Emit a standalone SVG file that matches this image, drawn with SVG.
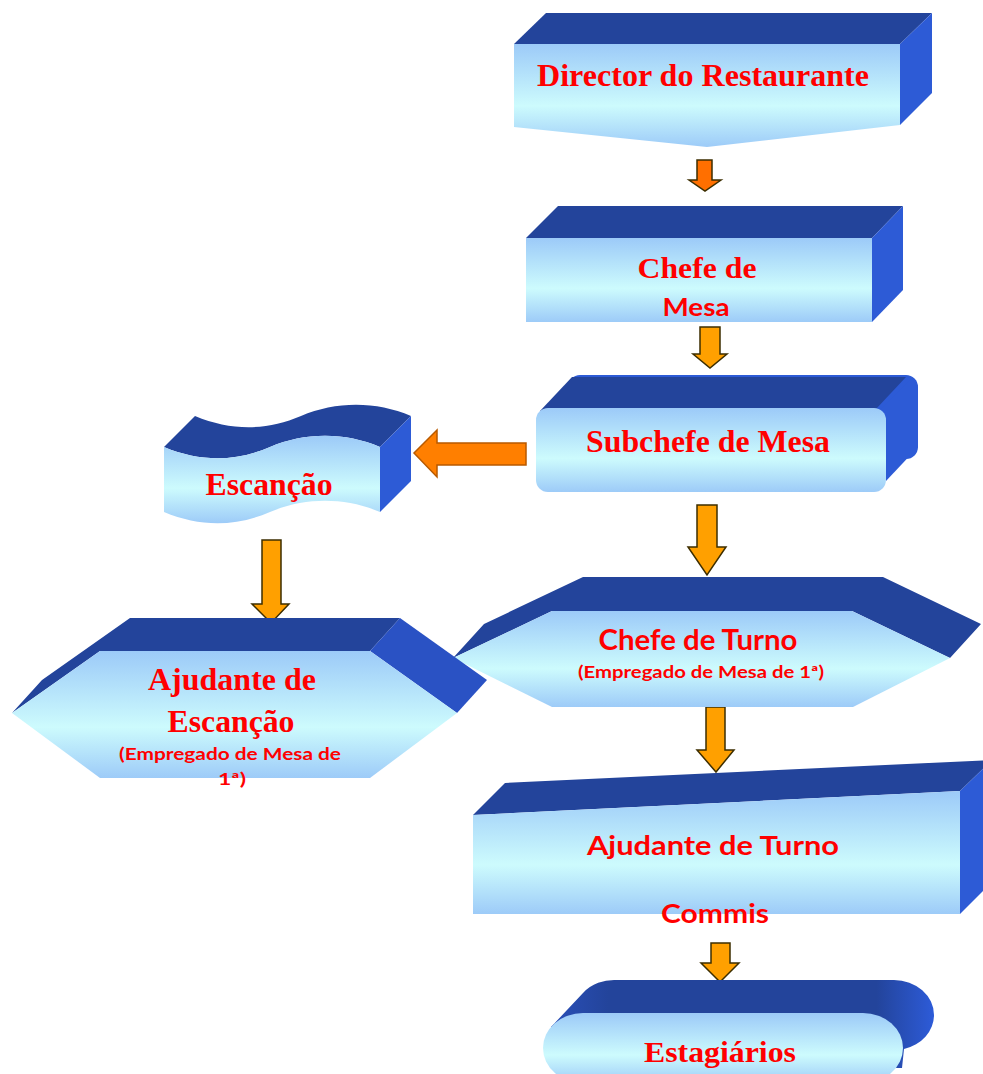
<svg xmlns="http://www.w3.org/2000/svg" width="983" height="1074" viewBox="0 0 983 1074">
<defs>
<linearGradient id="front" x1="0" y1="0" x2="0" y2="1">
<stop offset="0" stop-color="#9ccaf8"/>
<stop offset="0.6" stop-color="#cdfbfd"/>
<stop offset="1" stop-color="#9dcbf8"/>
</linearGradient>
<linearGradient id="pill" x1="0" y1="0" x2="1" y2="0">
<stop offset="0" stop-color="#2a4fb8"/>
<stop offset="0.15" stop-color="#23449b"/>
<stop offset="0.85" stop-color="#23449b"/>
<stop offset="1" stop-color="#2d5bd8"/>
</linearGradient>
<style>
.top{fill:#23449b}
.side{fill:#2d5bd6}
.face{fill:url(#front)}
.serif{font-family:"Liberation Serif","DejaVu Serif",serif;font-weight:bold;fill:#ff0000;text-anchor:middle}
.sans{font-family:Lato,"Liberation Sans",sans-serif;font-weight:bold;fill:#ff0000;text-anchor:middle}
.arr{fill:#ffa000;stroke:#3d2e00;stroke-width:1.5;stroke-linejoin:miter}
</style>
</defs>
<rect width="983" height="1074" fill="#ffffff"/>

<g id="connectors">
<polygon class="arr" style="fill:#ff6f00" points="697,160 712,160 712,180 721,180 705,191 689,180 697,180"/>
<polygon class="arr" points="700,327 720,327 720,354 727,354 710,368 693,354 700,354"/>
<polygon class="arr" style="fill:#ff7f00;stroke:#b85a00" points="526,443 526,465 437,465 437,477 414,453 437,430 437,443"/>
<polygon class="arr" points="697,505 717,505 717,547 726,547 707,575 688,547 697,547"/>
<polygon class="arr" points="262,540 281,540 281,604 289,604 271,623 252,604 262,604"/>
<polygon class="arr" points="706,707 725,707 725,750 734,750 716,772 697,750 706,750"/>
<polygon class="arr" points="711,943 730,943 730,963 739,963 720,982 701,963 711,963"/>
</g>

<g id="director">
<polygon class="top" points="514,44 546,13 932,13 900,44"/>
<polygon class="side" points="900,44 932,13 932,93 900,125"/>
<polygon class="face" points="514,44 900,44 900,125 707,147 514,127"/>
<text class="serif" x="703" y="86" font-size="31" textLength="332" lengthAdjust="spacingAndGlyphs">Director do Restaurante</text>
</g>

<g id="chefe-mesa">
<polygon class="top" points="526,238 558,206 903,206 872,238"/>
<polygon class="side" points="872,238 903,206 903,290 872,322"/>
<rect class="face" x="526" y="238" width="346" height="84"/>
<text class="serif" x="697" y="278" font-size="30" textLength="119" lengthAdjust="spacingAndGlyphs">Chefe de</text>
<text class="sans" x="696" y="316" font-size="24" textLength="67" lengthAdjust="spacingAndGlyphs">Mesa</text>
</g>

<g id="subchefe">
<rect class="side" x="568" y="375" width="350" height="84" rx="12"/>
<polygon class="top" points="540,411 572,377 906,377 876,409"/>
<polygon class="side" points="880,410 912,378 918,390 918,447 886,481"/>
<rect class="face" x="536" y="408" width="350" height="84" rx="12"/>
<text class="serif" x="708" y="452" font-size="31" textLength="244" lengthAdjust="spacingAndGlyphs">Subchefe de Mesa</text>
</g>

<g id="escancao">
<path class="top" d="M164,447 C200,462 235,462 270,447 C305,432 345,432 380,447 L411,416 C376,401 336,401 301,416 C266,431 231,431 195,416 Z"/>
<polygon class="side" points="380,447 411,416 411,481 380,512"/>
<path class="face" d="M164,447 C200,462 235,462 270,447 C305,432 345,432 380,447 L380,512 C345,497 305,497 270,512 C235,527 200,527 164,512 Z"/>
<text class="serif" x="269" y="495" font-size="31" textLength="127" lengthAdjust="spacingAndGlyphs">Escanção</text>
</g>

<g id="chefe-turno">
<polygon class="top" points="453,658 484,624 583,577 883,577 981,624 950,658 852,611 552,611"/>
<polygon class="face" points="453,658 552,611 852,611 950,658 853,707 552,707"/>
<text class="sans" x="698" y="650" font-size="28" textLength="199" lengthAdjust="spacingAndGlyphs">Chefe de Turno</text>
<text class="sans" x="701" y="678" font-size="17" textLength="246" lengthAdjust="spacingAndGlyphs">(Empregado de Mesa de 1ª)</text>
</g>

<g id="ajudante-escancao">
<polygon class="top" points="12,713 42,680 130,618 400,618 370,651 100,651"/>
<polygon class="side" style="fill:#2a52c4" points="370,651 400,618 487,680 457,713"/>
<polygon class="face" points="12,713 100,651 370,651 457,713 370,778 100,778"/>
<text class="serif" x="232" y="690" font-size="31" textLength="168" lengthAdjust="spacingAndGlyphs">Ajudante de</text>
<text class="serif" x="231" y="732" font-size="31" textLength="127" lengthAdjust="spacingAndGlyphs">Escanção</text>
<text class="sans" x="230" y="760" font-size="17" textLength="222" lengthAdjust="spacingAndGlyphs">(Empregado de Mesa de</text>
<text class="sans" x="232" y="785" font-size="17" textLength="28" lengthAdjust="spacingAndGlyphs">1ª)</text>
</g>

<g id="ajudante-turno">
<polygon class="top" points="473,815 505,783 992,760 960,791"/>
<polygon class="side" points="960,791 992,760 992,882 960,914"/>
<polygon class="face" points="473,815 960,791 960,914 473,914"/>
<text class="sans" x="713" y="855" font-size="26" textLength="252" lengthAdjust="spacingAndGlyphs">Ajudante de Turno</text>
<text class="sans" x="715" y="923" font-size="26" textLength="108" lengthAdjust="spacingAndGlyphs">Commis</text>
</g>

<g id="estagiarios">
<path fill="url(#pill)" d="M617,980 L894,980 A40,35 0 0 1 934,1015 A40,35 0 0 1 904,1049 L902,1068 L556,1068 L551,1027 L583,993 A40,35 0 0 1 617,980 Z"/>
<rect class="face" x="543" y="1013" width="360" height="70" rx="40" ry="35"/>
<text class="serif" x="720" y="1062" font-size="30" textLength="152" lengthAdjust="spacingAndGlyphs">Estagiários</text>
</g>
</svg>
